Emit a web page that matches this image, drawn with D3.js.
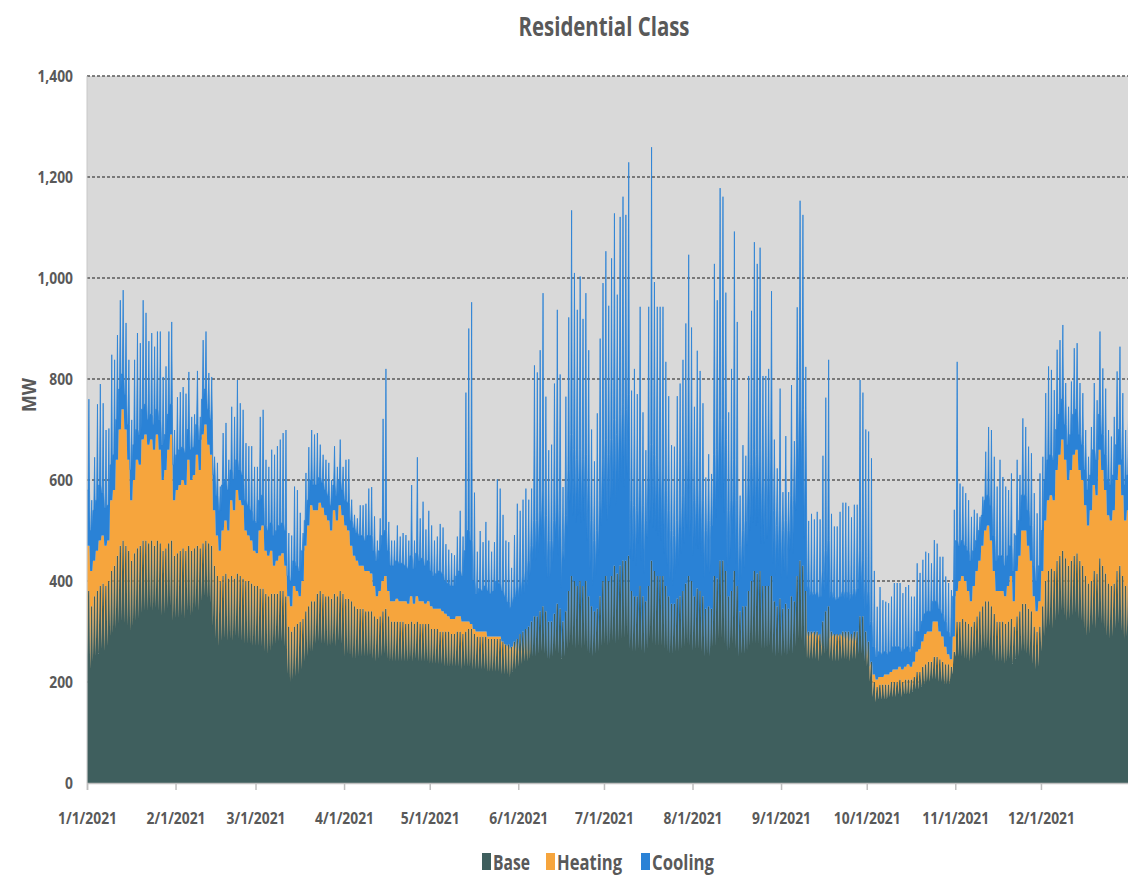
<!DOCTYPE html>
<html><head><meta charset="utf-8">
<script src="https://cdn.jsdelivr.net/npm/d3@7"></script>
<style>
body{margin:0;background:#fff;}
svg text{font-family:"Open Sans","DejaVu Sans",sans-serif;font-weight:700;fill:#595959;}
</style>
</head><body>
<svg id="chart" width="1128" height="877"></svg>
<script>
// ---------------- data ----------------
const seriesNames = ["Base", "Heating", "Cooling"];
const seriesKeys = ["base", "heating", "cooling"];
const seriesColors = ["#3f5f5e", "#f6a53d", "#2a82d6"];
const yTicks = [0, 200, 400, 600, 800, 1000, 1200, 1400];
const monthLabels = ["1/1/2021","2/1/2021","3/1/2021","4/1/2021","5/1/2021","6/1/2021",
                     "7/1/2021","8/1/2021","9/1/2021","10/1/2021","11/1/2021","12/1/2021"];

// Daily readings for 2021 (MW), one line per month.
// Base load at the night trough
const baseLow = [
  250,225,240,250,255,265,260,270,290,295,305,315,320,315,310,300,310,320,325,335,340,340,345,340,345,340,330,335,345,350,320,
  325,325,330,325,340,330,335,345,340,360,370,365,355,310,285,270,280,285,280,285,280,290,285,280,275,275,275,270,
  270,270,270,260,255,260,270,275,280,280,270,215,200,205,210,215,225,240,250,260,260,275,280,275,275,270,270,275,270,280,275,
  250,255,250,245,245,250,250,250,250,250,245,240,245,250,255,245,240,240,240,240,240,240,240,245,240,245,240,240,240,240,
  235,235,235,235,235,230,230,230,230,230,230,225,230,230,230,225,225,225,225,225,220,220,220,220,220,215,215,215,210,220,225,
  230,235,240,240,245,250,250,255,260,255,245,245,250,260,255,245,250,265,275,270,265,270,265,270,260,255,250,255,260,270,
  275,270,275,280,275,280,285,285,290,265,260,260,265,260,255,265,285,275,270,270,270,265,260,255,255,260,260,265,270,275,270,
  260,265,265,260,250,255,250,270,270,285,285,275,260,265,275,265,250,255,255,260,270,275,275,275,265,265,265,270,255,250,255,
  250,255,250,260,255,270,285,280,265,245,245,245,245,240,250,255,260,245,240,240,240,245,245,245,240,245,245,255,255,240,
  230,200,170,160,165,165,165,165,170,170,170,175,170,175,175,175,180,185,185,190,195,200,200,205,205,200,200,195,195,195,215,
  250,250,250,245,245,240,245,250,255,260,265,265,260,250,240,240,240,235,240,245,235,245,250,260,260,255,250,235,225,230,
  260,290,305,310,305,320,330,340,330,320,325,330,335,325,320,305,290,295,310,305,325,315,305,290,285,290,305,315,300,285,290
];
// Base load at its daytime level
const baseHigh = [
  380,350,370,380,390,395,390,400,420,430,450,470,480,470,460,440,455,465,470,480,480,475,480,470,480,475,460,465,475,480,450,
  455,460,465,460,470,460,465,470,465,475,480,475,470,430,410,400,410,415,405,410,405,415,410,405,400,400,395,390,
  390,385,385,375,370,375,375,375,380,380,370,310,300,310,315,320,325,340,350,360,360,375,380,375,370,370,365,375,370,380,375,
  365,365,360,350,345,345,345,340,340,340,330,325,330,340,345,330,320,320,320,320,320,315,315,320,315,320,315,315,315,315,
  305,305,305,300,300,300,300,295,295,300,300,295,300,305,305,295,290,290,290,290,285,285,285,285,285,280,275,275,270,280,285,
  295,300,305,310,320,330,330,340,350,340,320,320,335,355,345,320,340,380,410,400,390,400,390,400,370,350,340,345,370,400,
  410,400,410,430,415,430,440,440,450,380,370,370,390,370,360,390,440,420,410,410,410,390,370,355,355,365,370,380,395,410,400,
  370,385,380,370,345,350,345,410,405,440,440,420,370,380,420,390,340,350,350,380,400,420,415,420,390,390,390,410,360,350,365,
  345,355,345,370,360,410,440,430,380,300,300,300,300,295,320,340,350,300,295,295,295,300,300,300,295,300,300,330,330,300,
  280,240,200,190,195,195,195,195,200,200,200,205,200,205,205,205,210,220,220,230,235,240,240,250,250,245,240,235,235,230,260,
  320,320,325,320,315,310,320,330,340,350,360,360,350,335,320,320,320,315,320,325,310,330,340,355,355,345,340,310,300,310,
  350,400,420,425,420,440,450,460,445,430,440,450,455,440,430,410,395,400,420,415,445,430,415,395,390,395,420,430,410,390,395
];
// Top of the heating layer (base + heating); 0 = no heating that day
const heatingTop = [
  470,420,440,460,480,490,470,480,560,580,640,700,740,700,640,560,600,640,630,680,690,670,680,660,690,660,600,620,660,690,560,
  580,590,600,590,640,600,610,650,620,690,710,670,650,540,490,460,500,520,500,560,540,580,560,550,500,490,480,460,
  455,500,510,460,450,460,430,440,450,455,430,370,350,390,380,370,400,470,510,550,540,540,555,545,530,520,500,540,520,550,530,
  510,500,470,450,440,430,430,420,420,415,390,370,380,400,410,380,360,360,365,360,360,360,355,370,355,370,360,360,355,360,
  350,345,345,345,340,335,330,325,325,330,330,320,320,320,315,305,300,300,300,300,290,290,290,290,290,280,275,270,265,270,265,
  260,260,260,260,260,0,0,0,0,0,0,0,0,0,0,0,0,0,0,0,0,0,0,0,0,0,0,0,0,0,
  0,0,0,0,0,0,0,0,0,0,0,0,0,0,0,0,0,0,0,0,0,0,0,0,0,0,0,0,0,0,0,
  0,0,0,0,0,0,0,0,0,0,0,0,0,0,0,0,0,0,0,0,0,0,0,0,0,0,0,0,0,0,0,
  0,0,0,0,0,0,0,0,0,290,290,295,290,290,270,260,0,285,290,290,290,290,285,285,280,280,280,0,0,0,
  250,230,215,205,210,210,215,215,220,225,225,230,225,230,235,230,240,260,265,280,295,300,300,320,320,300,290,270,255,245,290,
  380,400,410,400,380,360,390,420,440,470,500,510,480,420,380,380,380,370,390,410,360,420,450,500,500,470,440,370,340,360,
  420,520,560,570,560,620,650,680,640,600,620,650,660,620,600,550,510,540,590,570,660,620,580,530,520,540,600,630,570,520,540
];
// Top of the cooling layer outside the daily peak hour (total daytime load)
const coolingTop = [
  580,500,540,560,590,575,545,550,630,650,720,780,810,770,710,620,670,700,690,740,750,720,730,710,740,720,670,690,730,750,630,
  650,660,665,655,700,660,665,710,680,760,780,740,720,610,570,540,590,600,580,620,600,640,620,610,560,550,540,520,
  515,560,570,510,500,515,490,500,510,515,500,410,400,440,430,420,460,520,560,600,590,590,605,595,580,570,550,590,570,600,580,
  560,555,520,505,495,490,490,480,490,490,460,440,460,490,500,460,430,430,440,435,435,430,425,450,425,455,440,445,430,440,
  420,410,415,420,415,400,395,390,390,410,420,410,460,500,480,400,375,385,380,390,380,375,380,400,395,380,370,360,350,370,390,
  400,410,420,440,470,520,520,540,580,530,480,480,520,580,540,460,530,620,690,660,640,660,640,650,590,520,480,500,560,640,
  680,650,680,720,690,730,750,740,770,560,550,540,600,550,520,610,670,650,640,630,620,580,540,500,490,520,540,570,600,640,620,
  560,590,580,560,500,520,510,650,660,720,720,680,540,560,640,560,470,500,520,590,630,660,650,660,600,600,610,640,540,510,540,
  500,520,500,570,560,680,760,740,600,390,380,375,380,370,420,460,480,380,370,365,370,380,380,380,375,385,385,460,440,400,
  380,320,270,250,260,255,260,255,260,270,270,270,260,265,270,260,270,300,300,320,335,340,340,360,360,345,335,320,300,290,370,
  480,470,480,470,460,440,460,480,500,530,560,570,550,490,440,450,450,430,450,470,420,490,520,570,570,540,510,430,400,430,
  500,600,640,650,640,700,730,760,710,670,690,730,740,690,670,620,580,610,660,640,730,690,650,600,590,610,670,700,640,590,610
];
// Daily peak of total load (top of each spike)
const dailyPeak = [
  760,560,645,750,790,752,699,702,848,838,887,956,976,911,838,719,838,891,871,956,931,875,891,864,894,894,804,825,894,913,699,
  764,774,784,771,814,725,730,816,725,877,894,812,804,646,634,587,693,713,640,745,725,798,752,739,673,667,667,626,
  626,725,739,640,626,660,650,667,680,693,699,495,490,587,580,535,495,614,665,699,690,693,670,650,640,634,600,667,626,680,626,
  640,641,561,531,524,550,550,553,583,586,528,480,524,721,820,517,480,480,510,488,495,491,480,590,480,645,524,557,502,539,
  510,480,488,513,506,473,462,455,451,488,539,488,773,900,952,575,458,499,477,517,480,458,477,601,583,531,480,477,426,491,553,
  539,561,583,561,583,827,813,857,970,765,659,670,791,937,809,586,765,922,1134,1010,937,1003,919,970,857,700,637,732,880,990,
  1053,945,1039,1128,967,1121,1161,1125,1229,777,820,770,943,734,659,943,1259,992,943,943,943,834,766,669,666,766,791,838,910,1046,902,
  745,856,816,752,605,651,612,1028,956,1178,1161,971,734,820,1092,913,569,669,648,806,935,1071,1028,1060,806,806,820,974,680,623,781,
  576,687,576,788,677,942,1153,1125,824,519,533,522,537,522,648,763,838,533,508,508,537,555,555,548,526,551,551,798,773,700,
  696,643,420,349,388,362,359,356,369,396,396,396,376,388,392,369,369,435,416,442,458,455,435,481,474,448,448,409,396,382,541,
  834,593,587,574,560,527,541,534,527,567,656,705,699,646,587,640,606,587,580,613,494,640,610,722,705,666,653,574,534,613,
  646,772,825,818,778,858,877,907,792,745,795,861,871,792,772,699,646,705,792,758,894,821,781,699,686,725,815,864,772,699,729
];

// ---------------- build hourly samples ----------------
const t0 = Date.UTC(2021, 0, 1);
const nDays = 365;
const val = (arr, d) => arr[Math.min(d, arr.length - 1)];
const rows = [];
for (let d = 0; d < nDays; d++) {
  const bLo = val(baseLow, d), bHi = val(baseHigh, d), hT = val(heatingTop, d), cT = val(coolingTop, d);
  const pk = val(dailyPeak, d);
  const heatDay = Math.max(0, hT - bHi);
  const coolDay = Math.max(0, cT - Math.max(hT, bHi));
  const night = {base: bLo, heating: Math.max(0, hT - bLo), cooling: coolDay};
  const day = {base: bHi, heating: heatDay, cooling: coolDay};
  const peak = {base: bHi, heating: heatDay, cooling: Math.max(coolDay, pk - bHi - heatDay)};
  [[2, night], [9, day], [16, peak], [21, day]].forEach(([h, v]) => {
    rows.push({t: new Date(t0 + (d * 24 + h) * 3600e3), base: v.base, heating: v.heating, cooling: v.cooling});
  });
}

// ---------------- chart ----------------
const W = 1128, H = 877;
const plotL = 87, plotT = 76, plotB = 783;
const svg = d3.select("#chart");
const x = d3.scaleUtc().domain([new Date(t0), new Date(Date.UTC(2022, 0, 1))]).range([plotL, 1129.5]);
const y = d3.scaleLinear().domain([0, 1400]).range([plotB, plotT]);

svg.append("defs").append("clipPath").attr("id", "clip")
  .append("rect").attr("x", plotL).attr("y", plotT - 2).attr("width", W - plotL).attr("height", plotB - plotT + 2);

svg.append("rect").attr("x", plotL).attr("y", plotT).attr("width", W - plotL).attr("height", plotB - plotT)
  .attr("fill", "#d9d9d9");

// gridlines
svg.append("g").selectAll("line").data(yTicks.filter(v => v > 0)).join("line")
  .attr("x1", plotL).attr("x2", W).attr("y1", d => y(d)).attr("y2", d => y(d))
  .attr("stroke", "#5a5a5a").attr("stroke-width", 1.3).attr("stroke-dasharray", "3,2");

// stacked areas
const layers = d3.stack().keys(seriesKeys)(rows);
const area = d3.area().x(d => x(d.data.t)).y0(d => y(d[0])).y1(d => y(d[1]));
const lineTop = d3.line().x(d => x(d.data.t)).y(d => y(d[1]));
const g = svg.append("g").attr("clip-path", "url(#clip)");
g.selectAll("path.area").data(layers).join("path").attr("class", "area")
  .attr("fill", (d, i) => seriesColors[i]).attr("d", area);
// outline of the cooling layer (makes the thin daily spikes visible like the original)
g.append("path").datum(layers[2]).attr("fill", "none").attr("stroke", seriesColors[2])
  .attr("stroke-width", 0.8).attr("d", lineTop);

// left border
svg.append("line").attr("x1", plotL).attr("x2", plotL).attr("y1", plotT).attr("y2", plotB)
  .attr("stroke", "#c8c8c8").attr("stroke-width", 1);

// x axis
const monthStarts = d3.range(12).map(m => new Date(Date.UTC(2021, m, 1)));
const xAxis = svg.append("g").attr("transform", `translate(0,${plotB})`)
  .call(d3.axisBottom(x).tickValues(monthStarts).tickFormat((d, i) => monthLabels[i]).tickSize(7).tickPadding(22));
xAxis.select(".domain").attr("stroke", "#bfbfbf").attr("stroke-width", 1.5);
xAxis.selectAll(".tick line").attr("stroke", "#bfbfbf").attr("stroke-width", 1.5);
xAxis.selectAll(".tick text").attr("fill", "#595959").style("font-size", "16.5px")
  .attr("transform", "scale(0.84,1)");

// y axis
const yAxis = svg.append("g").attr("transform", `translate(${plotL},0)`)
  .call(d3.axisLeft(y).tickValues(yTicks).tickFormat(d3.format(",")).tickSize(0).tickPadding(0));
yAxis.select(".domain").remove();
yAxis.selectAll(".tick text").attr("x", 0).attr("fill", "#595959").style("font-size", "16.5px")
  .attr("transform", "translate(-14,0) scale(0.84,1)");

// y title
svg.append("text").attr("transform", "translate(36,395) rotate(-90)").attr("text-anchor", "middle")
  .style("font-size", "19px").attr("textLength", 34).attr("lengthAdjust", "spacingAndGlyphs").text("MW");

// title
svg.append("text").attr("x", 604).attr("y", 36).attr("text-anchor", "middle")
  .style("font-size", "27px").attr("textLength", 171).attr("lengthAdjust", "spacingAndGlyphs")
  .text("Residential Class");

// legend
const legendItems = [
  {x: 482, tx: 493, w: 37},
  {x: 546, tx: 557, w: 65},
  {x: 641, tx: 652, w: 62}
];
const lg = svg.append("g");
legendItems.forEach((it, i) => {
  lg.append("rect").attr("x", it.x).attr("y", 853).attr("width", 9).attr("height", 17).attr("fill", seriesColors[i]);
  lg.append("text").attr("x", it.tx).attr("y", 870).style("font-size", "21px")
    .attr("textLength", it.w).attr("lengthAdjust", "spacingAndGlyphs").text(seriesNames[i]);
});
</script>
</body></html>
